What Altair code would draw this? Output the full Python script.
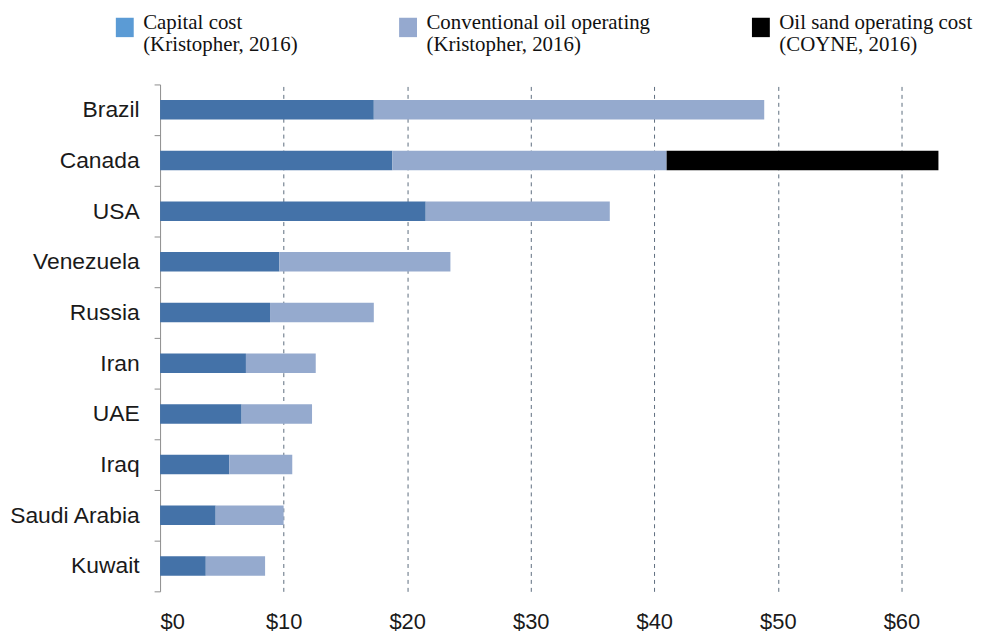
import altair as alt
import pandas as pd

countries = ["Brazil", "Canada", "USA", "Venezuela", "Russia", "Iran", "UAE", "Iraq", "Saudi Arabia", "Kuwait"]
capital = [17.3, 18.8, 21.5, 9.65, 8.9, 6.95, 6.6, 5.6, 4.5, 3.7]
conventional = [31.6, 22.2, 14.9, 13.85, 8.4, 5.65, 5.7, 5.1, 5.5, 4.8]
oil_sand = [0, 22.0, 0, 0, 0, 0, 0, 0, 0, 0]
series = [
    "Capital cost|(Kristopher, 2016)",
    "Conventional oil operating|(Kristopher, 2016)",
    "Oil sand operating cost|(COYNE, 2016)",
]
bar_colors = ["#4472a8", "#95aace", "#000000"]
legend_colors = ["#5b9bd5", "#95a9cf", "#000000"]
tick_values = [0, 10, 20, 30, 40, 50, 60]

rows = []
for c, a, b, s in zip(countries, capital, conventional, oil_sand):
    for i, v in enumerate([a, b, s]):
        if v > 0:
            rows.append({"country": c, "series": series[i], "key": series[i], "idx": i, "value": v})
df = pd.DataFrame(rows)

x_enc = alt.X(
    "value:Q",
    stack="zero",
    scale=alt.Scale(domain=[0, 65], nice=False),
    axis=alt.Axis(
        values=tick_values,
        format="$d",
        title=None,
        domain=False,
        ticks=False,
        grid=True,
        gridDash=[4, 4],
        gridColor="#5d6d7e",
        gridWidth=1,
        gridOpacity=alt.condition("datum.value == 0", alt.value(0), alt.value(1)),
        labelFont="Liberation Sans",
        labelFontSize=22,
        labelColor="#1a1a1a",
        labelPadding=20,
    ),
)
y_enc = alt.Y(
    "country:N",
    sort=countries,
    scale=alt.Scale(paddingInner=0, paddingOuter=0),
    axis=alt.Axis(
        title=None,
        tickBand="extent",
        domainColor="#8c8c8c",
        tickColor="#8c8c8c",
        tickSize=6,
        labelFont="Liberation Sans",
        labelFontSize=23,
        labelColor="#1a1a1a",
        labelPadding=15,
    ),
)

bars = alt.Chart(df).mark_bar(height={"band": 0.385}).encode(
    x=x_enc,
    y=y_enc,
    color=alt.Color("series:N", scale=alt.Scale(domain=series, range=bar_colors), legend=None),
    order=alt.Order("idx:Q"),
)

shape_path = "M-0.9,-1.27H0.9V0.83H-0.9Z"

legend_layer = alt.Chart(df).mark_point(
    shape=shape_path, filled=True, opacity=0
).encode(
    x=alt.X("value:Q"),
    y=alt.Y("country:N", sort=countries),
    fill=alt.Fill(
        "key:N",
        scale=alt.Scale(domain=series, range=legend_colors),
        legend=alt.Legend(
            title=None,
            orient="none",
            legendX=-46,
            legendY=-67,
            direction="horizontal",
            columns=3,
            columnPadding=88,
            labelFont="Liberation Serif",
            labelFontSize=21,
            labelColor="#111111",
            labelLimit=400,
            labelOffset=8,
            labelBaseline="alphabetic",
            labelExpr="split(datum.label, '|')",
        ),
    ),
    stroke=alt.Stroke(
        "key:N",
        scale=alt.Scale(domain=series, range=legend_colors),
        legend=None,
    ),
)

chart = alt.layer(bars, legend_layer).resolve_legend(
    color="independent", fill="independent", stroke="independent"
).properties(
    width=808,
    height=510,
    autosize=alt.AutoSizeParams(type="none"),
    padding={"left": 153, "top": 75, "right": 24, "bottom": 40},
).configure_view(stroke=None).configure_legend(
    symbolType=shape_path,
    symbolSize=100,
    symbolOpacity=1,
    symbolStrokeWidth=9,
)

chart.save("out.html", embed_options={"renderer": "svg", "actions": False})
